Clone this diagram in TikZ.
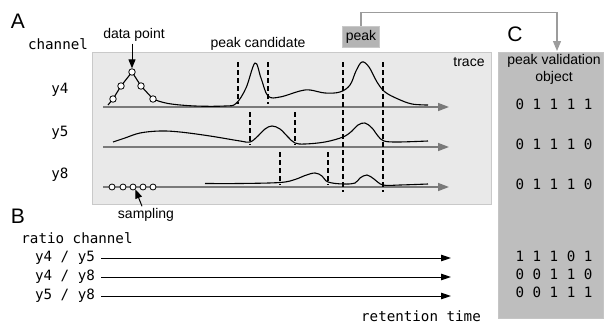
\documentclass[tikz,border=0pt]{standalone}
\usepackage{fontspec}
\setmainfont{Liberation Sans}
\newfontfamily\monofnt{DejaVu Sans Mono}
\usetikzlibrary{arrows.meta}
\definecolor{panelA}{HTML}{E9E9E9}
\definecolor{panelAedge}{HTML}{C9C9C9}
\definecolor{panelC}{HTML}{BEBEBE}
\definecolor{peakfill}{HTML}{B4B4B4}
\definecolor{axisgray}{HTML}{7A7A7A}
\definecolor{linkgray}{HTML}{9C9C9C}
\tikzset{
  lbl/.style={font=\fontsize{14}{16}\selectfont, inner sep=0pt},
  mlbl/.style={font=\monofnt\fontsize{14.2}{16}\selectfont, inner sep=0pt},
  big/.style={font=\fontsize{21}{24}\selectfont, inner sep=0pt},
  axisline/.style={draw=axisgray, line width=1.5pt, -{Triangle[length=11pt,width=8pt,fill=axisgray]}},
  tracecurve/.style={line width=1.1pt, black},
  cutline/.style={dash pattern=on 5pt off 3pt, line width=1.2pt},
  dotpt/.style={circle, draw=black, fill=white, line width=0.8pt, inner sep=0pt, minimum size=6.5pt},
  sampdot/.style={circle, draw=black, fill=white, line width=0.8pt, inner sep=0pt, minimum size=6pt},
  ratioarrow/.style={line width=1pt, -{Triangle[length=10pt,width=6.5pt]}},
  pointer/.style={line width=1pt, -{Triangle[length=9pt,width=7pt]}},
}
\begin{document}
\begin{tikzpicture}[x=1pt,y=-1pt]
\useasboundingbox (0,0) rectangle (606,324);
% panels
\node[draw=panelAedge, fill=panelA, line width=0.8pt, minimum width=399pt, minimum height=152pt, anchor=north west, inner sep=0pt] (panA) at (92,52) {};
\node[draw=panelC!90!white, fill=panelC, line width=0.8pt, minimum width=105pt, minimum height=266pt, anchor=north west, inner sep=0pt] (panC) at (498,52) {};
% section letters
\node[big] (la) at (18,21) {A};
\node[big] (lb) at (18,216) {B};
\node[big] (lc) at (515,34) {C};
% labels A
\node[mlbl] (chan) at (58,44) {channel};
\node[lbl] (dp) at (134,35) {data point};
\node[lbl] (pc) at (258,44) {peak candidate};
\node[lbl] (tr) at (469,62) {trace};
\node[mlbl] (ly4) at (60,90) {y4};
\node[mlbl] (ly5) at (60,133) {y5};
\node[mlbl] (ly8) at (60,175) {y8};
\node[lbl] (samp) at (146,215) {sampling};
% peak box and link to C
\node[draw=panelAedge, fill=peakfill, line width=0.6pt, minimum width=37pt, minimum height=21pt, inner sep=0pt, lbl] (peak) at (361,37) {peak};
\coordinate (cin) at (557,51);
\draw[linkgray, line width=1.2pt, -{Triangle[length=10pt,width=8pt,fill=linkgray]}] (peak.north) -- ++(0,-14) -| (cin);
% axes
\coordinate (a4s) at (103,107); \coordinate (a4e) at (449,107);
\coordinate (a5s) at (103,147); \coordinate (a5e) at (449,147);
\coordinate (a8s) at (103,187); \coordinate (a8e) at (449,187);
\draw[axisline] (a4s) -- (a4e);
\draw[axisline] (a5s) -- (a5e);
\draw[axisline] (a8s) -- (a8e);
% dashed cuts
\draw[cutline] (238,62) -- (238,104);
\draw[cutline] (268,62) -- (268,104);
\draw[cutline] (343,62) -- (343,192);
\draw[cutline] (383,62) -- (383,192);
\draw[cutline] (250,112) -- (250,145);
\draw[cutline] (295,112) -- (295,145);
\draw[cutline] (280,152) -- (280,185);
\draw[cutline] (328,152) -- (328,185);
% y4 trace
\draw[tracecurve] (108,105) -- (113,99) -- (121,86) -- (132,72) -- (141,86) -- (153,99);
\draw[tracecurve] plot[smooth, tension=0.6] coordinates {(153,99) (168,103.5) (195,106) (225,106) (236,103.5) (246,88) (255,63) (261,78) (268,96) (280,97) (300,91) (310,90) (325,93) (340,92) (350,85) (356,71) (362,62) (369,67) (377,82) (385,92) (398,99) (412,104) (428,105)};
% y5 trace
\draw[tracecurve] plot[smooth, tension=0.6] coordinates {(113,142) (125,138) (140,133) (160,131) (180,132) (210,136) (240,141) (250,142) (258,136) (265,129) (272,126) (280,129) (288,137) (295,143) (305,144) (325,142) (343,137) (352,131) (358,125) (365,123) (372,128) (378,136) (384,141) (398,142) (428,141)};
% y8 trace
\draw[tracecurve] plot[smooth, tension=0.6] coordinates {(205,183.5) (240,183.5) (280,182.5) (295,179.5) (305,175.5) (315,173) (322,176) (328,182) (343,184) (355,183) (360,178) (367,175) (374,179) (383,185) (400,185) (428,184)};
% data points
\node[dotpt] (d1) at (113,99) {};
\node[dotpt] (d2) at (121,86) {};
\node[dotpt] (d3) at (132,72) {};
\node[dotpt] (d4) at (141,86) {};
\node[dotpt] (d5) at (153,99) {};
\coordinate (dpt) at ([yshift=-2pt]dp.south -| d3);
\draw[pointer] (dpt) -- (d3.north);
% sampling points
\node[sampdot] (s1) at (112,187) {};
\node[sampdot] (s2) at (123,187) {};
\node[sampdot] (s3) at (133,187) {};
\node[sampdot] (s4) at (143,187) {};
\node[sampdot] (s5) at (153,187) {};
\coordinate (spt) at ([xshift=-4pt,yshift=2pt]samp.north);
\draw[pointer] (spt) -- (s3.south east);
% B section
\node[mlbl] (rc) at (77,238) {ratio channel};
\node[mlbl] (r1) at (65,258) {y4 / y5};
\node[mlbl] (r2) at (65,277) {y4 / y8};
\node[mlbl] (r3) at (65,296) {y5 / y8};
\coordinate (r1e) at (451,258);
\coordinate (r2e) at (451,277);
\coordinate (r3e) at (451,296);
\draw[ratioarrow] ([xshift=6pt]r1.east) -- (r1e);
\draw[ratioarrow] ([xshift=6pt]r2.east) -- (r2e);
\draw[ratioarrow] ([xshift=6pt]r3.east) -- (r3e);
\node[mlbl] (rt) at (421,316) {retention time};
% C section
\node[lbl] (pv1) at (554,61) {peak validation};
\node[lbl] (pv2) at (554,78) {object};
\node[mlbl] (v1) at (554,104) {0 1 1 1 1};
\node[mlbl] (v2) at (554,144) {0 1 1 1 0};
\node[mlbl] (v3) at (554,184) {0 1 1 1 0};
\node[mlbl] (v4) at (554,256) {1 1 1 0 1};
\node[mlbl] (v5) at (554,274) {0 0 1 1 0};
\node[mlbl] (v6) at (554,292) {0 0 1 1 1};
\end{tikzpicture}
\end{document}
